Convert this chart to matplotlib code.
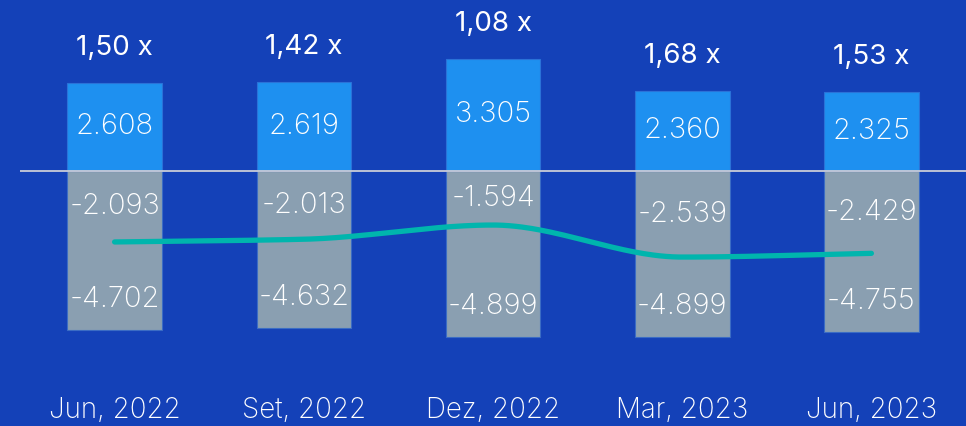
import numpy as np
import matplotlib.pyplot as plt

# data
periods = ["Jun, 2022", "Set, 2022", "Dez, 2022", "Mar, 2023", "Jun, 2023"]
positive = [2608, 2619, 3305, 2360, 2325]
negative = [-4702, -4632, -4899, -4899, -4755]
net = [-2093, -2013, -1594, -2539, -2429]
ratio_labels = ["1,50 x", "1,42 x", "1,08 x", "1,68 x", "1,53 x"]


def fmt(v):
    # thousands with a dot, like the reference
    return f"{v:,}".replace(",", ".")


def monotone_curve(x, y, n=60):
    # Fritsch-Carlson monotone cubic, only used to draw the smooth line
    x = np.asarray(x, float)
    y = np.asarray(y, float)
    h = np.diff(x)
    d = np.diff(y) / h
    m = np.zeros_like(y)
    m[0], m[-1] = d[0], d[-1]
    for i in range(1, len(y) - 1):
        if d[i - 1] * d[i] <= 0:
            m[i] = 0
        else:
            m[i] = 2 / (1 / d[i - 1] + 1 / d[i])
    xs, ys = [], []
    for i in range(len(x) - 1):
        t = np.linspace(0, 1, n)
        h00 = 2 * t**3 - 3 * t**2 + 1
        h10 = t**3 - 2 * t**2 + t
        h01 = -2 * t**3 + 3 * t**2
        h11 = t**3 - t**2
        xs.append(x[i] + t * h[i])
        ys.append(h00 * y[i] + h10 * h[i] * m[i] + h01 * y[i + 1] + h11 * h[i] * m[i + 1])
    return np.concatenate(xs), np.concatenate(ys)


bg = "#1441b8"
plt.rcParams["font.family"] = ["Inter", "DejaVu Sans"]

fig = plt.figure(figsize=(9.66, 4.26), dpi=100, facecolor=bg)
ax = fig.add_axes([20 / 966, 1 - 390 / 426, 946 / 966, 390 / 426])
ax.set_facecolor(bg)

x = np.arange(len(periods))
ax.bar(x, positive, 0.5, color="#1e90f0", edgecolor="#2a72d8", linewidth=0.8, zorder=2)
ax.bar(x, negative, 0.5, color="#8a9fb1", edgecolor="#3b6cc4", linewidth=0.8, zorder=2)
ax.axhline(0, color="#c9ccd8", linewidth=1.3, zorder=3)

cx, cy = monotone_curve(x, net)
ax.plot(cx, cy, color="#00b5ad", linewidth=3.8, solid_capstyle="round", zorder=4)

for i in range(len(x)):
    ax.text(x[i], positive[i] / 2, fmt(positive[i]), ha="center", va="center",
            color="white", fontsize=21, fontweight="light", zorder=5)
    ax.text(x[i], net[i] / 2, fmt(net[i]), ha="center", va="center",
            color="white", fontsize=21, fontweight="light", zorder=5)
    ax.annotate(fmt(negative[i]), (x[i], negative[i]), xytext=(0, 22),
                textcoords="offset points", ha="center", va="center",
                color="white", fontsize=21, fontweight="light", zorder=5)
    ax.annotate(ratio_labels[i], (x[i], positive[i]), xytext=(0, 25),
                textcoords="offset points", ha="center", va="center",
                color="white", fontsize=20, zorder=5)

ax.set_xlim(-0.5, 4.5)
ax.set_ylim(-6460, 5044)
ax.set_xticks(x)
ax.set_xticklabels(periods, color="white", fontsize=20, fontweight="light")
ax.tick_params(axis="x", length=0, pad=5)
ax.set_yticks([])
for s in ax.spines.values():
    s.set_visible(False)

fig.savefig("out.png", dpi=100, facecolor=bg)
